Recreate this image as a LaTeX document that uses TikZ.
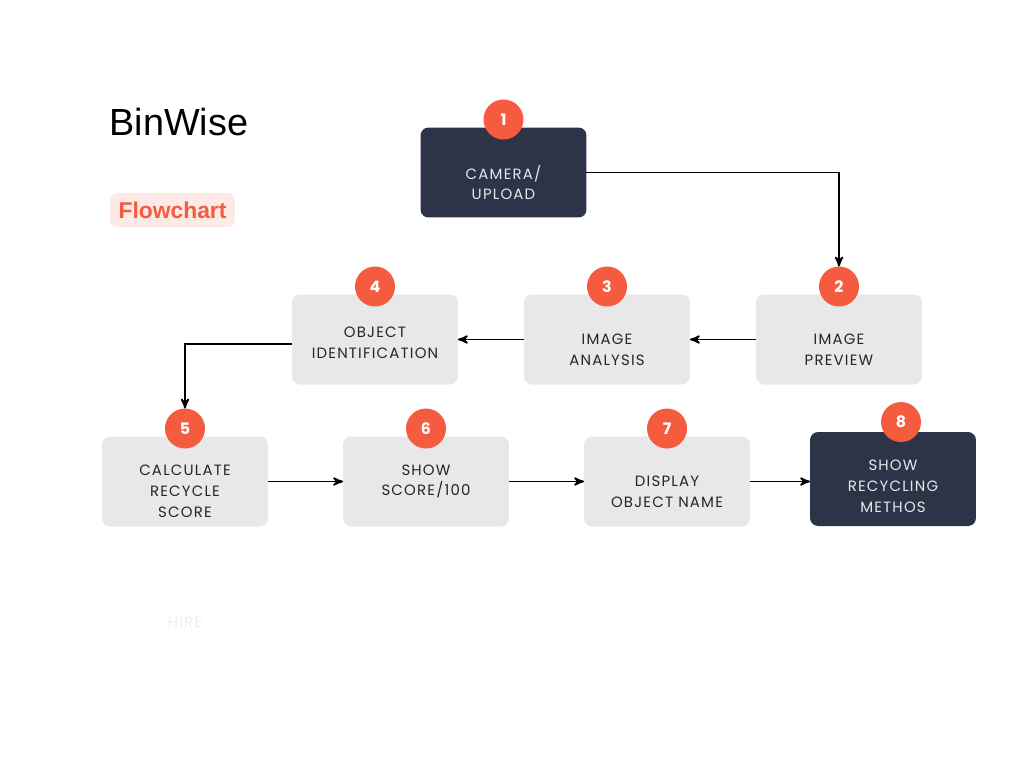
\documentclass[tikz,border=0pt]{standalone}
\usepackage{fontspec}
\setmainfont{Liberation Sans}
\newfontfamily\boxfont[LetterSpace=8]{Poppins}
\newfontfamily\numfont{Poppins}
\usepackage{tikz}
\usetikzlibrary{arrows,positioning}

\definecolor{navy}{HTML}{2E3447}
\definecolor{pale}{HTML}{E8E8EB}
\definecolor{tomato}{HTML}{F45B3F}
\definecolor{blush}{HTML}{FDEAE6}

\begin{document}
\begin{tikzpicture}[x=0.02cm,y=-0.02cm,>=stealth',line width=1pt,
                    box/.style={rectangle,rounded corners=0.16cm,minimum width=3.32cm,minimum height=1.8cm,fill=pale,outer sep=0pt},
                    dark box/.style={box,fill=navy},
                    txt/.style={align=center,font=\boxfont\fontsize{8.5}{11.9}\selectfont,text=black!85},
                    dark txt/.style={txt,text=white!88!navy},
                    badge/.style={circle,fill=tomato,minimum size=0.8cm,inner sep=0pt,outer sep=0pt,text=white,font=\numfont\bfseries\small}]

  \useasboundingbox (0,0) rectangle (1024,768);

  \node (title) [anchor=west,font=\fontsize{21.5}{24}\selectfont] at (103,122) {BinWise};
  \node (tag) [fill=blush,rounded corners=0.14cm,text=tomato,minimum width=2.5cm,minimum height=0.68cm,
               font=\bfseries\fontsize{13}{15}\selectfont] at (172.5,210) {Flowchart};

  % boxes
  \node[dark box] (b1) at (503.5,172.5) {};
  \node[box] (b2) at (839,339.5) {};
  \node[box] (b3) at (607,339.5) {};
  \node[box] (b4) at (375,339.5) {};
  \node[box] (b5) at (185,481.5) {};
  \node[box] (b6) at (426,481.5) {};
  \node[box] (b7) at (667,481.5) {};
  \node[dark box,minimum height=1.88cm] (b8) at (893,479) {};

  % labels
  \node[dark txt] (t1) at ([yshift=-0.2cm]b1.center) {CAMERA/\\UPLOAD};
  \node[txt] (t2) at ([yshift=-0.2cm]b2.center) {IMAGE\\PREVIEW};
  \node[txt] (t3) at ([yshift=-0.2cm]b3.center) {IMAGE\\ANALYSIS};
  \node[txt] (t4) at ([yshift=-0.07cm]b4.center) {OBJECT\\IDENTIFICATION};
  \node[txt] (t5) at ([yshift=-0.2cm]b5.center) {CALCULATE\\RECYCLE\\SCORE};
  \node[txt] (t6) at (b6.center) {SHOW\\SCORE/100};
  \node[txt] (t7) at ([yshift=-0.2cm]b7.center) {DISPLAY\\OBJECT NAME};
  \node[dark txt] (t8) at ([yshift=-0.14cm]b8.center) {SHOW\\RECYCLING\\METHOS};

  % numbers
  \node[badge] (n1) at ([yshift=0.16cm]b1.north) {1};
  \node[badge] (n2) at ([yshift=0.16cm]b2.north) {2};
  \node[badge] (n3) at ([yshift=0.16cm]b3.north) {3};
  \node[badge] (n4) at ([yshift=0.16cm]b4.north) {4};
  \node[badge] (n5) at ([yshift=0.16cm]b5.north) {5};
  \node[badge] (n6) at ([yshift=0.16cm]b6.north) {6};
  \node[badge] (n7) at ([yshift=0.16cm]b7.north) {7};
  \node[badge] (n8) at ([xshift=0.16cm,yshift=0.2cm]b8.north) {8};

  \node[txt,text=black!7] (hire) at (185,622) {HIRE};

  % arrows
  \draw[->] (b1.east) -| (n2.north);
  \draw[->] (b2.west) -- (b3.east);
  \draw[->] (b3.west) -- (b4.east);
  \draw[->] ([yshift=-0.09cm]b4.west) -| (n5.north);
  \draw[->] (b5.east) -- (b6.west);
  \draw[->] (b6.east) -- (b7.west);
  \draw[->] (b7.east) -- (b7.east -| b8.west);
\end{tikzpicture}
\end{document}
